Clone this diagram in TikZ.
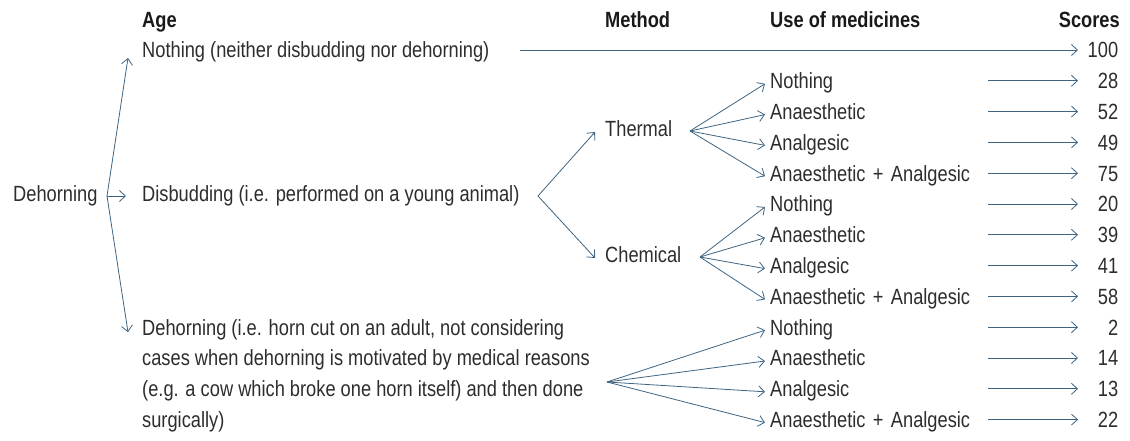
\documentclass[tikz,border=0pt]{standalone}
\usepackage{fontspec}
\setmainfont{Liberation Sans}[FakeStretch=0.83]
\usetikzlibrary{arrows.meta}
\definecolor{textc}{RGB}{45,45,45}
\definecolor{headc}{RGB}{25,25,25}
\definecolor{arrc}{RGB}{62,100,130}
\tikzset{
  txt/.style={inner sep=0pt, text height=15.7pt, text depth=0pt, anchor=west,
    text=textc, font=\fontsize{22}{26}\selectfont},
  head/.style={txt, text=headc, font=\fontsize{22}{26}\selectfont\bfseries},
  med/.style={txt, text width=218pt},
  score/.style={txt, text width=36pt, align=right},
  arr/.style={draw=arrc, line width=0.8pt, -{Straight Barb[length=6pt,width=11pt]}},
  plain/.style={draw=arrc, line width=0.8pt}
}
\begin{document}
\begin{tikzpicture}[x=1pt,y=-1pt]
\useasboundingbox (0,0) rectangle (1130,441);
% headers
\node[head] (hage) at (142,20) {Age};
\node[head] (hmeth) at (605,20) {Method};
\node[head] (hmed) at (770,20) {Use of medicines};
\node[head, anchor=east] (hsc) at (1120,20) {Scores};
% root
\node[txt] (root) at (13,194) {Dehorning};
\coordinate (rfork) at (107,196);
% age column
\node[txt] (a0) at (142,50) {Nothing (neither disbudding nor dehorning)};
\node[txt] (a1) at (142,194) {Disbudding (i.e. performed on a young animal)};
\node[txt] (a2a) at (142,327.2) {Dehorning (i.e. horn cut on an adult, not considering};
\node[txt] (a2b) at (142,358) {cases when dehorning is motivated by medical reasons};
\node[txt] (a2c) at (142,388.8) {(e.g. a cow which broke one horn itself) and then done};
\node[txt] (a2d) at (142,419.6) {surgically)};
% method
\coordinate (dfork) at (538,196);
\node[txt] (th) at (605,129) {Thermal};
\node[txt] (ch) at (605,255) {Chemical};
\coordinate (thfork) at (690,131);
\coordinate (chfork) at (700,257);
\coordinate (dhfork) at (607,382);
% medicines
\node[med] (m1) at (770,80.8) {Nothing};
\node[med] (m2) at (770,111.6) {Anaesthetic};
\node[med] (m3) at (770,142.4) {Analgesic};
\node[med] (m4) at (770,173.2) {Anaesthetic + Analgesic};
\node[med] (m5) at (770,204) {Nothing};
\node[med] (m6) at (770,234.8) {Anaesthetic};
\node[med] (m7) at (770,265.6) {Analgesic};
\node[med] (m8) at (770,296.4) {Anaesthetic + Analgesic};
\node[med] (m9) at (770,327.2) {Nothing};
\node[med] (m10) at (770,358) {Anaesthetic};
\node[med] (m11) at (770,388.8) {Analgesic};
\node[med] (m12) at (770,419.6) {Anaesthetic + Analgesic};
% scores
\node[score] (s0) at (1082,50) {100};
\node[score] (s1) at (1082,80.8) {28};
\node[score] (s2) at (1082,111.6) {52};
\node[score] (s3) at (1082,142.4) {49};
\node[score] (s4) at (1082,173.2) {75};
\node[score] (s5) at (1082,204) {20};
\node[score] (s6) at (1082,234.8) {39};
\node[score] (s7) at (1082,265.6) {41};
\node[score] (s8) at (1082,296.4) {58};
\node[score] (s9) at (1082,327.2) {2};
\node[score] (s10) at (1082,358) {14};
\node[score] (s11) at (1082,388.8) {13};
\node[score] (s12) at (1082,419.6) {22};
% root connectors
\draw[arr] (rfork) -- ([shift={(-14,8)}]a0.west);
\draw[arr] (rfork) -- ([shift={(-16,2)}]a1.west);
\draw[arr] (rfork) -- ([shift={(-14,5)}]a2a.west);
% nothing line
\coordinate (l0) at (520,50);
\draw[arr, shorten >=4pt] (l0) -- (s0.west);
% disbudding fork
\draw[arr] (dfork) -- ([shift={(-10,3)}]th.west);
\draw[arr] (dfork) -- ([shift={(-10,3)}]ch.west);
% fans
\foreach \m in {m1,m2,m3,m4}{\draw[arr] (thfork) -- ([shift={(-5,3)}]\m.west);}
\foreach \m in {m5,m6,m7,m8}{\draw[arr] (chfork) -- ([shift={(-5,3)}]\m.west);}
\foreach \m in {m9,m10,m11,m12}{\draw[arr] (dhfork) -- ([shift={(-5,3)}]\m.west);}
% score arrows
\foreach \i in {1,...,12}{\draw[arr, shorten >=4pt] (m\i.east) -- (s\i.west);}
\end{tikzpicture}
\end{document}
